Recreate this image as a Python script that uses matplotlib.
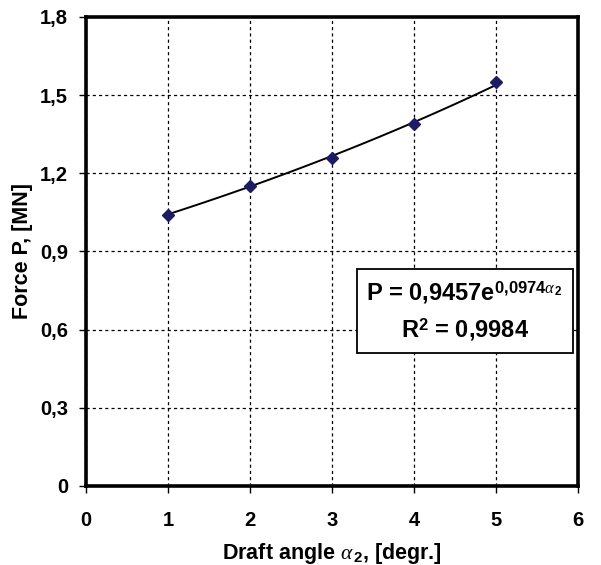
import numpy as np
import matplotlib
matplotlib.use("Agg")
import matplotlib.pyplot as plt

# measured force at each draft angle
angles = [1, 2, 3, 4, 5]
force = [1.04, 1.15, 1.26, 1.39, 1.55]

# exponential trend P = a * exp(b * alpha2)
fit_a = 0.9457
fit_b = 0.0974

x_ticks = [0, 1, 2, 3, 4, 5, 6]
y_ticks = [0, 0.3, 0.6, 0.9, 1.2, 1.5, 1.8]
y_labels = ['0', '0,3', '0,6', '0,9', '1,2', '1,5', '1,8']

plt.rcParams['font.family'] = ['Liberation Sans', 'DejaVu Sans']
plt.rcParams['mathtext.fontset'] = 'custom'
plt.rcParams['mathtext.rm'] = 'Liberation Sans:bold'
plt.rcParams['mathtext.bf'] = 'Liberation Sans:bold'
plt.rcParams['mathtext.it'] = 'Liberation Serif:italic'

fig = plt.figure(figsize=(6.01, 5.65), dpi=100)
ax = fig.add_axes([0.143, 0.140, 0.819, 0.830])

xs = np.linspace(angles[0], angles[-1], 100)
ax.plot(xs, fit_a * np.exp(fit_b * xs), color='black', lw=1.4, zorder=3)
ax.plot(angles, force, ls='none', marker='D', ms=6.5, color='#1c1c64', zorder=4)

ax.set_xlim(0, 6)
ax.set_ylim(0, 1.8)
ax.set_xticks(x_ticks)
ax.set_yticks(y_ticks)
ax.set_yticklabels(y_labels)
ax.grid(True, color='black', ls=(0, (2.5, 2.5)), lw=0.9)
ax.set_axisbelow(True)

for s in ax.spines.values():
    s.set_linewidth(2.6)
ax.tick_params(direction='out', length=5, width=1, labelsize=14.5)
ax.tick_params(axis='x', pad=13)
ax.tick_params(axis='y', pad=8)
for lab in ax.get_xticklabels() + ax.get_yticklabels():
    lab.set_fontweight('bold')

ax.set_xlabel(r'Draft angle $\alpha_{\,2}$, [degr.]', fontsize=15.5,
              fontweight='bold', labelpad=8)
ax.set_ylabel('Force P, [MN]', fontsize=15.5, fontweight='bold', labelpad=5)

ax.text(4.62, 0.672,
        'P = 0,9457e$^{0{,}0974\\alpha_{\\,2}}$\nR$^{2}$ = 0,9984',
        fontsize=17, fontweight='bold', ha='center', va='center',
        multialignment='center', linespacing=1.5,
        bbox=dict(boxstyle='square,pad=0.42', fc='white', ec='black', lw=1.3),
        zorder=5)

fig.savefig('out.png', dpi=100)
